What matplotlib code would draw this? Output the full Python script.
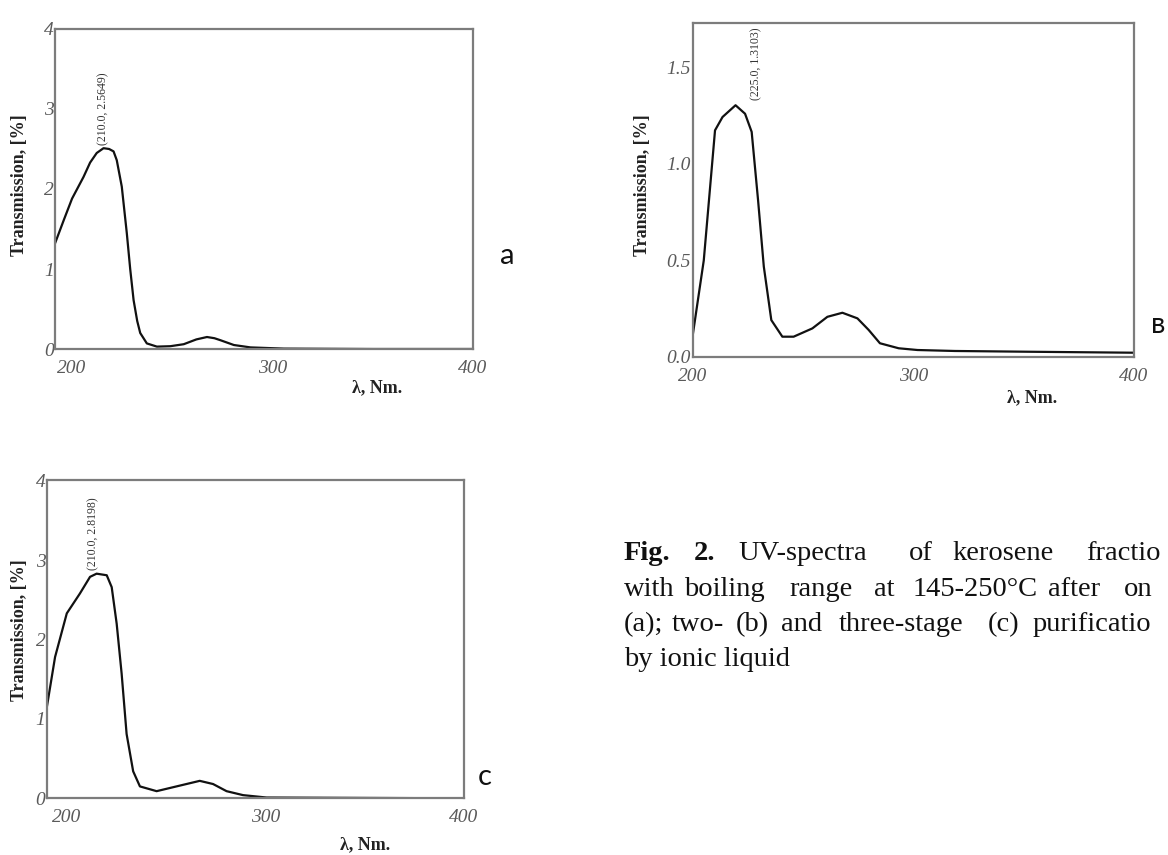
#!/usr/bin/env python3
"""UV-spectra of kerosene fraction after one-, two- and three-stage purification."""

import matplotlib

matplotlib.use("Agg")

import matplotlib.pyplot as plt

W_PX, H_PX = 1168, 855
DPI = 100

SERIF = ["Liberation Serif", "DejaVu Serif"]
SANS = ["Lato", "Open Sans", "DejaVu Sans"]
INK = "#111111"
TICK = "#5a5a5a"
FRAME = "#7c7c7c"

# panel a: one-stage purification
wl_a = [191.5, 196, 200, 205.7, 209, 212.3, 215.7, 218.5, 220.7, 222.3, 224.8,
        227.3, 229, 230.7, 232.5, 234, 237.3, 242.3, 249, 255.7, 262, 267.3,
        271, 274, 280.7, 289, 305.7, 350, 400]
tr_a = [1.32, 1.62, 1.88, 2.15, 2.33, 2.45, 2.51, 2.50, 2.47, 2.36, 2.03,
        1.45, 1.00, 0.61, 0.35, 0.20, 0.07, 0.03, 0.035, 0.06, 0.12, 0.15,
        0.135, 0.11, 0.05, 0.02, 0.005, 0.0, 0.0]

# panel b: two-stage purification
wl_b = [200, 205.1, 210.2, 213.6, 219.5, 223.8, 226.8, 229.7, 232.3, 235.7,
        240.7, 245.8, 254.3, 261.1, 267.9, 274.7, 279.8, 284.9, 293.4, 301.9,
        318.8, 352.8, 400]
tr_b = [0.105, 0.50, 1.174, 1.243, 1.304, 1.26, 1.166, 0.812, 0.468, 0.191,
        0.105, 0.105, 0.148, 0.208, 0.229, 0.20, 0.14, 0.071, 0.045, 0.036,
        0.031, 0.027, 0.022]

# panel c: three-stage purification
wl_c = [190, 194.2, 200.1, 206.7, 211.8, 215.1, 220.2, 222.7, 225.2, 227.7,
        230.2, 233.5, 236.9, 245.3, 255.3, 267, 273.7, 280.5, 288.8, 300.6, 400]
tr_c = [1.14, 1.78, 2.33, 2.58, 2.79, 2.83, 2.81, 2.66, 2.20, 1.57, 0.81,
        0.34, 0.15, 0.09, 0.15, 0.22, 0.18, 0.09, 0.04, 0.01, 0.0]

peak_labels = ["(210.0, 2.5649)", "(225.0, 1.3103)", "(210.0, 2.8198)"]
peak_xy = [(215.5, 2.55), (228.9, 1.33), (213.3, 2.87)]

x_ticks = [200, 300, 400]
y_ticks_a = [0, 1, 2, 3, 4]
y_ticks_b = [0.0, 0.5, 1.0, 1.5]
y_ticks_c = [0, 1, 2, 3, 4]

# the caption runs off the right edge of the page in the original scan
caption_lines = [
    [("Fig.", 624, True), ("2.", 694, True), ("UV-spectra", 738, False), ("of", 909, False),
     ("kerosene", 952, False), ("fractio", 1086, False)],
    [("with", 624, False), ("boiling", 684, False), ("range", 789, False), ("at", 874, False),
     ("145-250°C", 913, False), ("after", 1048, False), ("on", 1124, False)],
    [("(a);", 624, False), ("two-", 672, False), ("(b)", 736, False), ("and", 781, False),
     ("three-stage", 839, False), ("(c)", 988, False), ("purificatio", 1033, False)],
    [("by ionic liquid", 624, False)],
]
caption_baselines = [560, 596, 631, 666]


def px(x, y):
    return x / W_PX, 1 - y / H_PX


def panel(fig, rect, wl, tr, xlim, ylim, yticks, ylabels, peak_text, peak_pos):
    ax = fig.add_axes(rect)
    ax.plot(wl, tr, color=INK, lw=1.6, solid_joinstyle="round")
    ax.set_xlim(*xlim)
    ax.set_ylim(*ylim)
    ax.set_xticks(x_ticks)
    ax.set_xticklabels([str(t) for t in x_ticks])
    ax.set_yticks(yticks)
    ax.set_yticklabels(ylabels)
    ax.tick_params(length=0, labelcolor=TICK, labelsize=14)
    ax.tick_params(axis="x", pad=8)
    ax.tick_params(axis="y", pad=1)
    for lab in ax.get_xticklabels() + ax.get_yticklabels():
        lab.set_fontstyle("italic")
        lab.set_family(SERIF)
    for sp in ax.spines.values():
        sp.set_color(FRAME)
        sp.set_linewidth(1.6)
    ax.text(peak_pos[0], peak_pos[1], peak_text, rotation=90, ha="center", va="bottom",
            fontsize=8.5, family=SERIF, color="#333333")
    return ax


def main():
    fig = plt.figure(figsize=(W_PX / DPI, H_PX / DPI), dpi=DPI)
    fig.patch.set_facecolor("white")

    panel(fig, [0.0471, 0.5918, 0.3579, 0.3743], wl_a, tr_a, (191.5, 400), (0, 4),
          y_ticks_a, [str(t) for t in y_ticks_a], peak_labels[0], peak_xy[0])
    panel(fig, [0.5929, 0.5825, 0.3780, 0.3906], wl_b, tr_b, (200, 400), (0, 1.73),
          y_ticks_b, [f"{t:.1f}" for t in y_ticks_b], peak_labels[1], peak_xy[1])
    panel(fig, [0.0400, 0.0663, 0.3573, 0.3723], wl_c, tr_c, (190, 400), (0, 4.01),
          y_ticks_c, [str(t) for t in y_ticks_c], peak_labels[2], peak_xy[2])

    # axis labels
    for (x, y) in [(20, 185), (642, 185), (20, 630)]:
        fig.text(*px(x, y), "Transmission, [%]", rotation=90, ha="center", va="center",
                 fontsize=13, fontweight="bold", family=SERIF, color="#222222")
    for (x, y) in [(377, 388), (1032, 398), (365, 845)]:
        fig.text(*px(x, y), "λ, Nm.", ha="center", va="center",
                 fontsize=13, fontweight="bold", family=SERIF, color="#222222")

    # panel letters
    for letter, (x, y) in [("a", (507, 256)), ("в", (1158, 325)), ("c", (485, 777))]:
        fig.text(*px(x, y), letter, ha="center", va="center", fontsize=21, family=SANS, color=INK)

    # caption
    for words, base in zip(caption_lines, caption_baselines):
        for word, x, bold in words:
            fig.text(*px(x, base), word, ha="left", va="baseline", fontsize=20.5,
                     family=SERIF, fontweight="bold" if bold else "normal", color=INK)

    fig.savefig("out.png", dpi=DPI)
    plt.close(fig)


if __name__ == "__main__":
    main()
